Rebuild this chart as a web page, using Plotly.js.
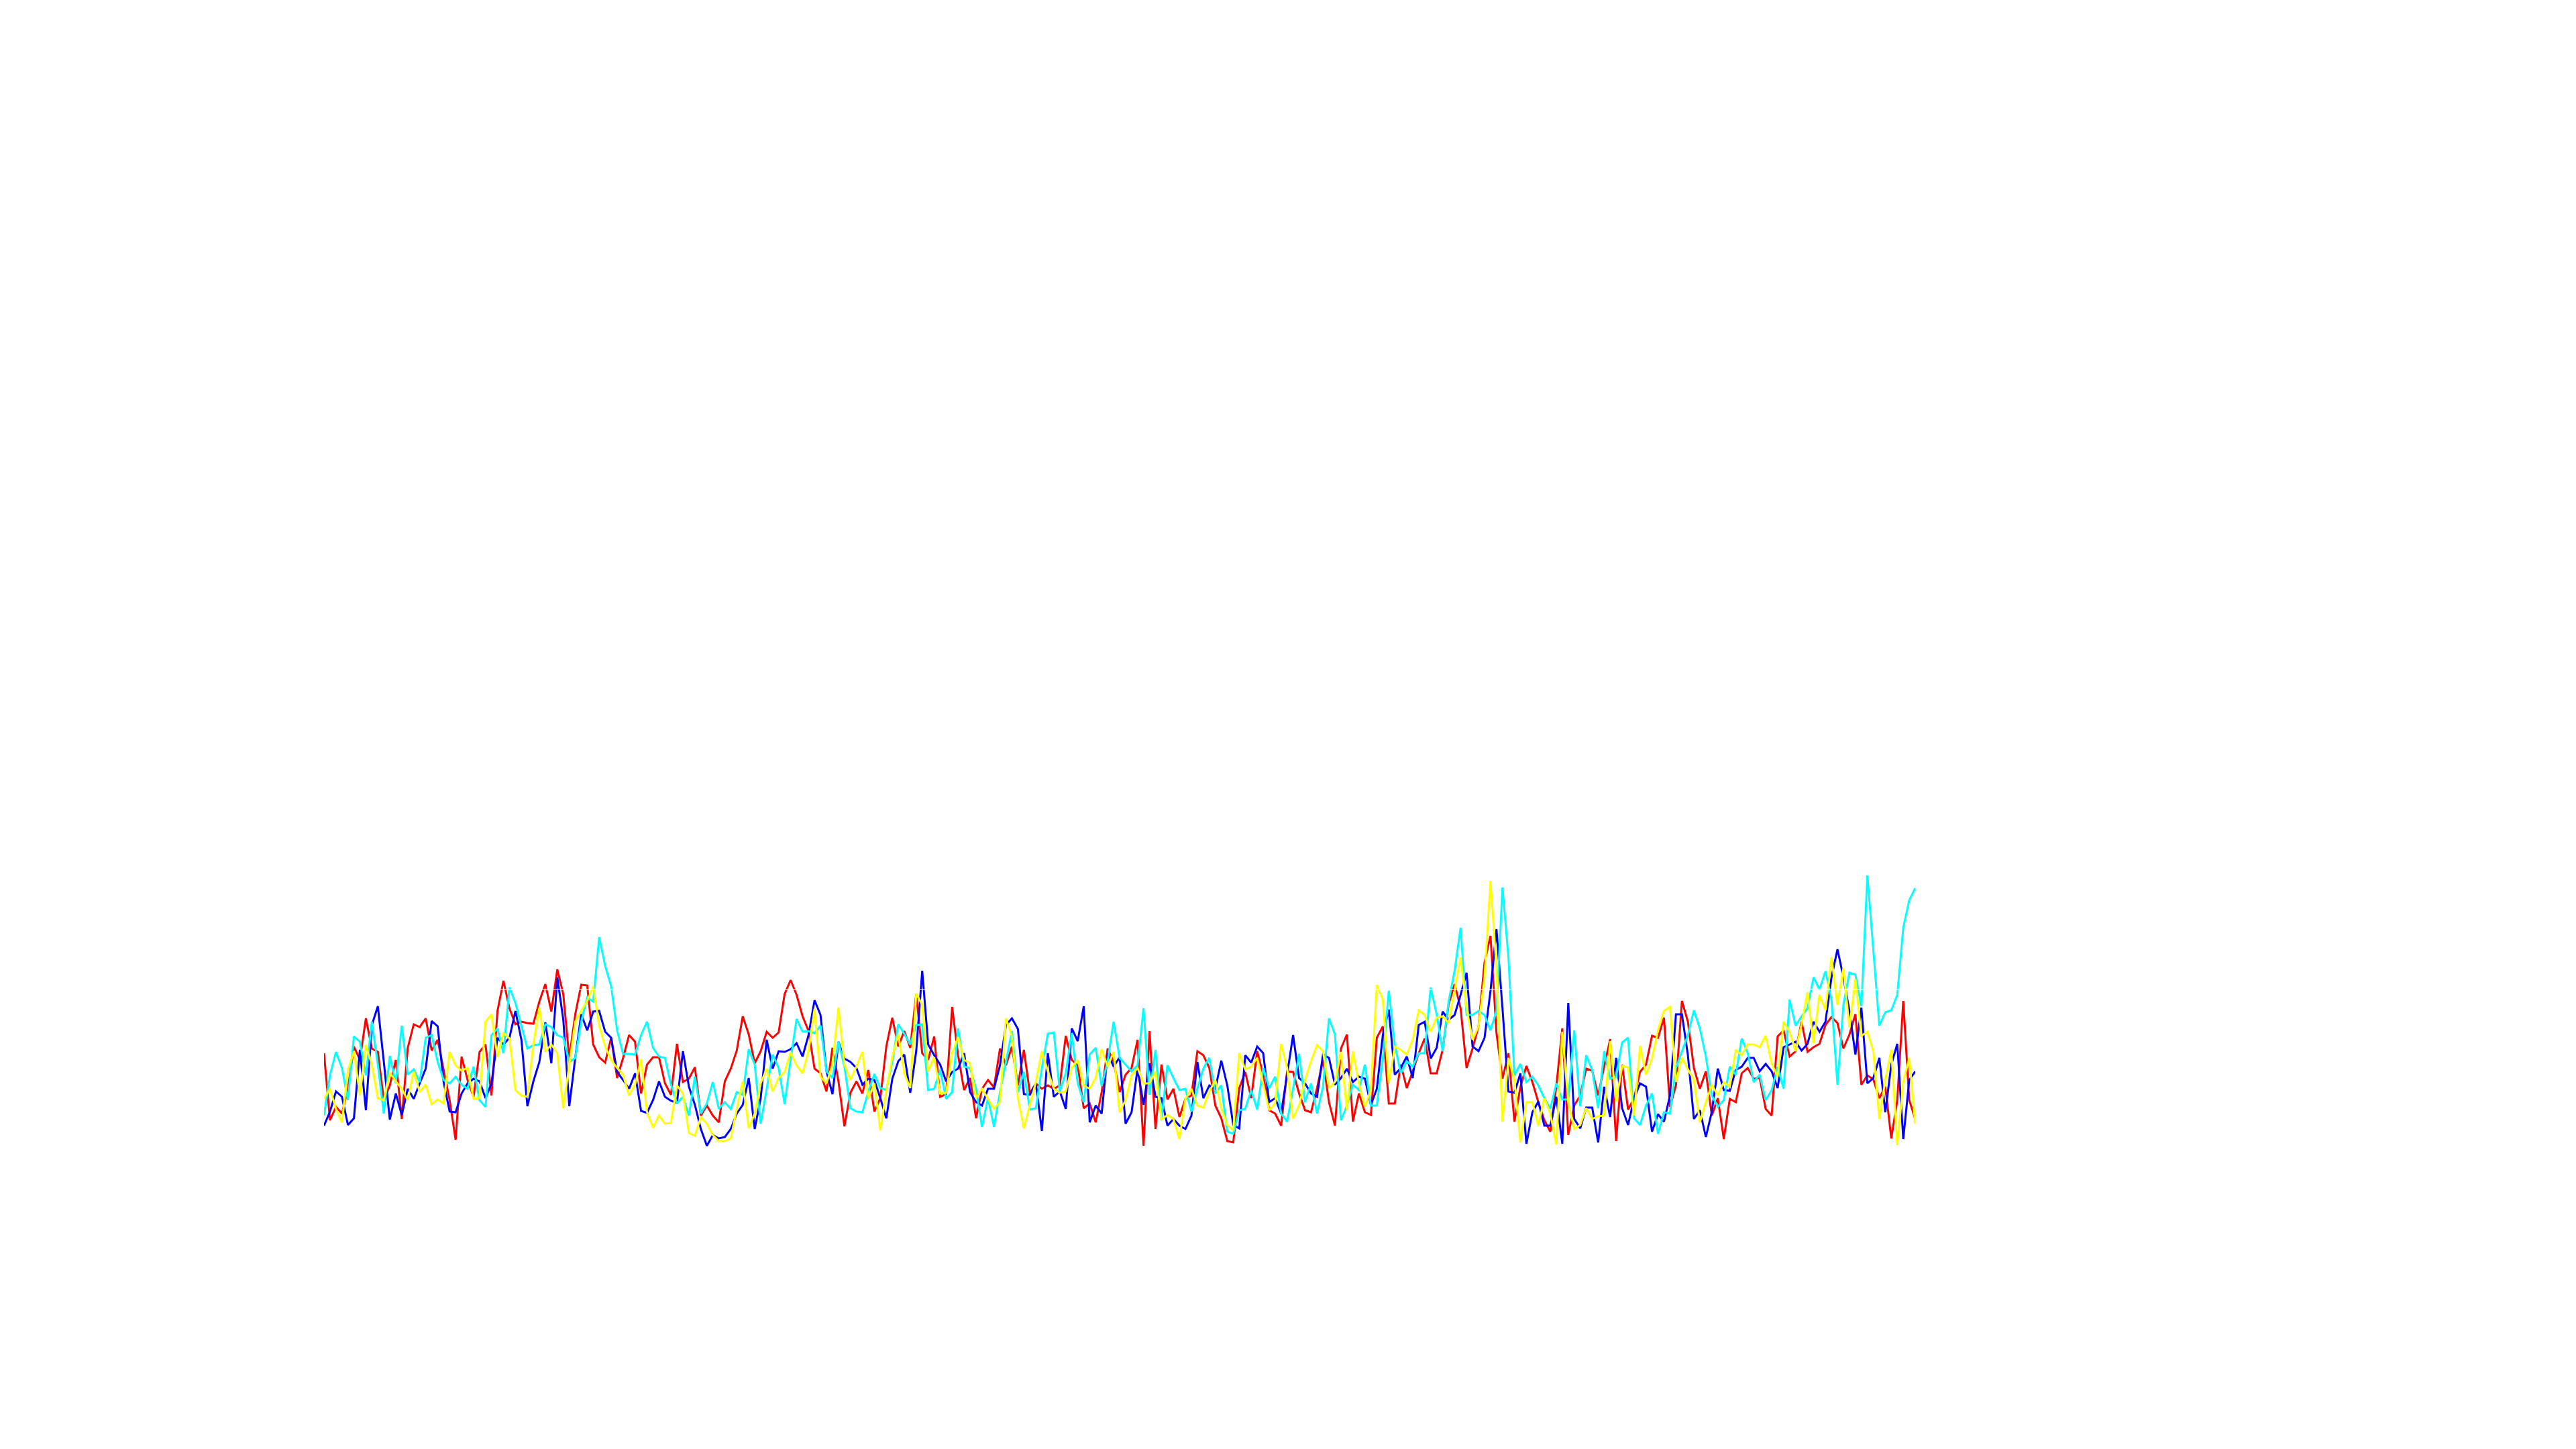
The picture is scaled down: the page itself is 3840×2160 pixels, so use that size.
<!DOCTYPE html>
<html>
<head>
<meta charset="utf-8">
<script src="https://cdn.plot.ly/plotly-3.0.1.min.js"></script>
<style>html,body{margin:0;padding:0;background:#fff;}#chart{width:3840px;height:2160px;}</style>
</head>
<body>
<div id="chart"></div>
<script>
// Series values (arbitrary units; 0 = the thin white reference line)
const redSeries = [
-0.95,-1.95,-1.75,-1.85,-1.48,-0.85,-1.05,-0.43,-0.88,-0.93,-1.65,-1.43,-1.05,-1.93,-0.87,-0.52,-0.56,-0.43,-0.91,-0.75,-1.20,-1.65,-2.24,-1.00,-1.35,-1.60,-0.93,-0.82,-1.58,-0.32,0.13,-0.28,-0.52,-0.48,
-0.50,-0.51,-0.18,0.08,-0.33,0.30,-0.07,-1.02,-0.37,0.07,0.06,-0.82,-1.01,-1.09,-0.72,-1.32,-1.02,-0.68,-0.78,-1.55,-1.12,-1.01,-1.01,-1.40,-1.57,-0.81,-1.38,-1.33,-1.16,-1.88,-1.73,-1.88,-1.98,-1.37,
-1.18,-0.91,-0.40,-0.67,-1.10,-0.92,-0.63,-0.72,-0.64,-0.07,0.14,-0.08,-0.40,-0.62,-1.18,-1.25,-1.52,-0.87,-1.37,-2.04,-1.54,-1.37,-1.55,-1.20,-1.82,-1.62,-0.85,-0.42,-0.85,-0.62,-0.87,-0.07,-0.95,
-1.05,-0.70,-1.60,-1.56,-0.26,-0.98,-1.50,-1.32,-1.92,-1.48,-1.35,-1.46,-0.88,-1.13,-0.85,-1.43,-0.90,-1.55,-1.40,-1.48,-1.43,-1.48,-1.43,-0.69,-1.05,-1.13,-1.77,-1.70,-1.98,-1.53,-0.88,-1.08,-1.53,-1.27,
-1.17,-0.75,-2.33,-0.62,-2.08,-1.12,-1.64,-1.48,-1.90,-1.63,-1.58,-0.92,-0.98,-1.17,-1.73,-1.92,-2.26,-2.28,-1.47,-1.23,-1.62,-0.92,-1.27,-1.80,-1.85,-2.03,-1.22,-1.23,-1.55,-1.80,-1.83,-1.47,-1.05,
-1.68,-2.03,-0.88,-0.67,-1.97,-1.55,-1.83,-1.87,-0.72,-0.55,-1.70,-1.70,-1.12,-1.47,-1.22,-0.95,-0.73,-1.25,-1.25,-0.90,-0.22,0.08,-0.28,-1.17,-0.88,-0.55,0.40,0.80,-0.65,-1.33,-0.95,-1.97,-1.45,-1.14,
-1.38,-1.68,-1.95,-2.12,-1.45,-0.58,-2.17,-1.73,-1.58,-1.18,-1.21,-1.58,-1.15,-0.74,-2.26,-1.12,-1.79,-1.62,-1.23,-1.12,-0.69,-0.72,-0.42,-1.75,-1.43,-0.17,-0.48,-1.17,-1.48,-1.22,-1.88,-1.62,-2.23,-1.63,
-1.68,-1.25,-1.17,-1.33,-1.32,-1.78,-1.88,-0.70,-0.61,-1.00,-0.92,-0.48,-0.93,-0.86,-0.81,-0.53,-0.41,-0.50,-0.88,-0.67,-0.37,-1.42,-1.28,-1.34,-1.62,-1.45,-2.22,-1.65,-0.17,-1.65,-1.93
];
const blueSeries = [
-2.03,-1.82,-1.52,-1.60,-2.02,-1.92,-0.90,-1.80,-0.53,-0.25,-1.08,-1.94,-1.55,-1.87,-1.48,-1.63,-1.40,-1.18,-0.47,-0.55,-1.38,-1.82,-1.83,-1.55,-1.40,-1.33,-1.37,-1.62,-1.40,-0.72,-0.82,-0.72,-0.32,-0.75,
-1.74,-1.37,-1.08,-0.49,-1.10,0.18,-0.45,-1.74,-1.02,-0.37,-0.61,-0.33,-0.32,-0.63,-0.72,-1.23,-1.35,-1.48,-1.25,-1.81,-1.84,-1.65,-1.37,-1.60,-1.66,-1.69,-0.92,-1.45,-1.72,-2.08,-2.33,-2.17,-2.22,-2.20,
-2.08,-1.85,-1.72,-1.32,-2.08,-1.62,-0.75,-1.18,-0.92,-0.93,-0.89,-0.80,-1.00,-0.68,-0.16,-0.38,-1.22,-1.56,-0.78,-1.03,-1.08,-1.17,-1.42,-1.33,-1.35,-1.62,-1.92,-1.33,-1.07,-0.97,-1.54,-0.92,0.28,
-0.82,-0.98,-1.12,-1.37,-1.23,-1.18,-0.95,-1.53,-1.68,-1.73,-1.48,-1.48,-1.13,-0.53,-0.43,-0.59,-1.56,-1.57,-1.40,-2.11,-0.95,-1.60,-1.52,-1.78,-0.58,-0.77,-0.25,-1.98,-1.73,-1.85,-0.95,-1.15,-1.01,-2.00,
-1.83,-1.18,-1.72,-1.10,-1.60,-1.62,-2.03,-1.93,-2.03,-2.08,-1.88,-1.08,-1.62,-1.43,-1.48,-1.06,-1.43,-2.02,-2.07,-0.98,-1.09,-0.85,-0.95,-1.68,-1.62,-1.85,-1.27,-0.68,-1.32,-1.40,-1.55,-1.60,-0.97,
-1.02,-1.42,-1.32,-1.18,-1.38,-1.30,-1.33,-1.72,-1.48,-0.68,-0.30,-1.27,-1.17,-1.00,-1.32,-0.53,-0.48,-1.03,-0.87,-0.33,-0.45,-0.38,-0.08,0.25,-0.85,-0.92,-0.72,-0.02,0.90,-0.28,-1.52,-1.54,-1.25,-2.30,
-1.83,-1.67,-2.03,-2.03,-1.60,-2.30,-0.20,-1.93,-2.07,-1.76,-1.76,-2.28,-1.45,-1.90,-1.02,-1.77,-2.02,-1.63,-1.40,-1.45,-2.12,-1.86,-1.97,-1.58,-0.37,-0.37,-0.98,-1.93,-1.80,-2.20,-1.82,-1.18,-1.50,-1.51,
-1.20,-1.15,-1.02,-1.02,-1.22,-1.11,-1.22,-1.47,-0.86,-0.82,-0.78,-0.91,-0.81,-0.48,-0.63,-0.48,0.18,0.60,0.18,-0.32,-0.97,-0.27,-1.40,-1.32,-1.02,-1.83,-1.12,-0.81,-2.23,-1.35,-1.22
];
const cyanSeries = [
-1.88,-1.28,-0.93,-1.17,-1.65,-0.70,-0.78,-1.28,-0.48,-1.12,-1.85,-0.99,-1.40,-0.54,-1.27,-1.19,-1.38,-0.72,-0.68,-1.08,-1.35,-1.40,-1.30,-1.42,-1.48,-1.15,-1.65,-1.75,-0.68,-0.58,-0.95,0.03,-0.20,-0.55,
-0.88,-0.83,-0.82,-0.52,-0.56,-0.68,-0.72,-1.08,-1.02,-0.48,-0.12,-0.18,0.78,0.35,0.05,-0.61,-0.96,-0.96,-0.97,-0.68,-0.48,-0.87,-1.00,-1.02,-1.42,-1.70,-1.60,-1.88,-1.30,-1.85,-1.70,-1.38,-1.78,-1.68,
-1.78,-1.53,-1.57,-0.89,-1.12,-2.00,-1.48,-0.97,-1.17,-1.71,-1.05,-0.44,-0.63,-0.62,-0.65,-0.54,-1.22,-1.32,-0.78,-1.15,-1.77,-1.82,-1.83,-1.52,-1.26,-1.47,-1.50,-1.08,-0.52,-0.66,-0.82,-0.53,-0.52,
-1.50,-1.48,-1.20,-1.63,-1.53,-0.58,-1.15,-1.17,-1.48,-2.05,-1.62,-2.05,-1.53,-1.08,-0.62,-1.53,-1.23,-1.79,-1.77,-1.18,-0.66,-0.64,-1.52,-1.25,-0.65,-1.40,-1.68,-0.97,-0.87,-1.44,-1.07,-0.48,-1.02,-1.12,
-1.22,-1.13,-0.28,-1.57,-0.90,-1.95,-1.13,-1.32,-1.50,-1.48,-1.82,-1.48,-1.18,-1.02,-1.55,-1.43,-2.12,-2.15,-1.80,-1.78,-1.50,-1.79,-1.17,-1.47,-1.30,-1.85,-1.97,-1.48,-0.96,-1.68,-1.40,-1.85,-1.45,
-0.43,-0.67,-1.95,-1.73,-1.42,-1.50,-1.12,-1.73,-1.73,-1.05,-0.02,-0.82,-1.25,-1.07,-1.15,-0.95,-0.95,0.03,-0.37,-0.92,-0.18,0.28,0.92,-0.38,-0.38,-0.32,-0.38,-0.61,-0.32,1.52,0.48,-1.28,-1.11,-1.38,
-1.30,-1.43,-1.62,-1.78,-1.40,-1.64,-1.64,-0.61,-1.74,-0.98,-1.20,-1.77,-0.92,-1.33,-1.30,-0.79,-0.72,-1.92,-2.02,-1.73,-1.55,-2.15,-1.83,-1.85,-1.17,-0.93,-0.68,-0.31,-0.58,-1.00,-1.58,-1.75,-1.65,-1.15,
-1.27,-0.73,-0.95,-1.38,-1.27,-1.65,-1.50,-1.15,-1.48,-0.15,-0.54,-0.40,-0.28,0.18,0.00,0.27,-0.15,-1.42,-0.23,0.25,0.22,-0.25,1.70,0.58,-0.54,-0.34,-0.31,-0.08,0.92,1.33,1.51
];
const yellowSeries = [
-1.63,-1.48,-1.78,-1.98,-1.20,-0.92,-1.58,-0.83,-1.12,-1.62,-1.65,-1.24,-1.37,-1.48,-1.65,-1.22,-1.53,-1.42,-1.71,-1.64,-1.70,-0.93,-1.13,-1.21,-1.17,-1.63,-1.62,-0.48,-0.37,-1.01,-0.65,-0.73,-1.50,-1.58,
-1.60,-0.82,-0.27,-0.93,-0.82,-0.95,-1.77,-1.12,-0.48,-0.32,-0.17,0.05,-0.54,-0.85,-1.05,-1.17,-1.27,-1.58,-1.42,-1.04,-1.83,-2.06,-1.88,-2.00,-1.99,-1.43,-1.55,-2.14,-2.18,-1.90,-2.00,-2.17,-2.26,-2.26,
-2.22,-1.78,-1.37,-2.07,-1.85,-1.40,-1.18,-1.52,-1.32,-1.23,-0.94,-1.13,-1.25,-0.92,-0.29,-1.30,-1.40,-1.12,-0.27,-1.12,-1.35,-1.15,-0.93,-1.63,-1.40,-2.10,-1.52,-1.00,-0.67,-1.25,-1.47,-0.06,-0.23,
-1.22,-1.01,-1.55,-1.54,-0.95,-0.71,-1.05,-1.10,-1.62,-1.48,-1.63,-1.78,-1.68,-0.43,-0.70,-1.62,-2.07,-1.73,-1.38,-0.92,-1.22,-1.48,-1.54,-1.52,-1.17,-1.05,-1.43,-1.48,-1.32,-0.89,-1.15,-0.93,-1.83,-1.65,
-1.28,-1.17,-1.40,-1.40,-1.22,-1.94,-1.87,-1.93,-2.23,-1.63,-1.48,-1.73,-1.76,-1.52,-1.35,-1.77,-2.02,-2.10,-0.95,-1.19,-1.15,-1.02,-1.42,-1.80,-1.70,-0.81,-1.17,-1.92,-1.73,-1.35,-1.07,-0.83,-0.92,
-1.47,-1.38,-0.93,-1.80,-0.92,-1.40,-1.75,-1.50,0.07,-0.15,-1.40,-0.85,-0.90,-0.97,-0.75,-0.31,-0.38,-0.63,-0.42,-0.40,-0.50,-0.02,0.48,-0.28,-0.75,-0.55,0.18,1.62,0.32,-1.97,-1.02,-1.35,-2.28,-1.68,
-1.68,-2.03,-1.62,-1.85,-2.31,-0.63,-1.68,-2.08,-2.02,-1.77,-1.93,-1.89,-1.88,-0.77,-1.67,-1.14,-1.16,-1.88,-0.84,-1.27,-1.03,-0.61,-0.32,-0.26,-1.38,-1.02,-1.19,-1.34,-1.98,-1.68,-1.42,-1.58,-1.38,-1.45,
-0.90,-0.98,-0.82,-0.82,-0.86,-0.69,-1.10,-1.30,-0.48,-0.63,-0.92,-0.52,-0.04,-0.80,-0.08,-0.31,0.48,-0.23,0.32,-0.57,0.15,-0.69,-0.63,-0.92,-1.93,-1.35,-0.90,-2.32,-1.38,-1.02,-2.00
];
const seriesColors = ["#ff0000", "#0000ff", "#00ffff", "#ffff00"];

const allSeries = [redSeries, blueSeries, cyanSeries, yellowSeries];
const traces = allSeries.map(function (vals, k) {
  const xs = vals.map(function (_, i) { return i; });
  return {
    type: "scatter",
    mode: "lines",
    x: xs,
    y: vals,
    line: { color: seriesColors[k], width: 3 },
    hoverinfo: "skip",
    showlegend: false
  };
});

const n = redSeries.length;
const layout = {
  width: 3840,
  height: 2160,
  paper_bgcolor: "#ffffff",
  plot_bgcolor: "#ffffff",
  showlegend: false,
  margin: { l: 483, r: 985, t: 1290, b: 440, pad: 0 },
  xaxis: { range: [0, n - 1], showgrid: false, zeroline: false, showticklabels: false, ticks: "", showline: false },
  yaxis: { range: [-2.45, 1.85], showgrid: false, zeroline: false, showticklabels: false, ticks: "", showline: false },
  shapes: [{
    type: "line", xref: "paper", x0: 0, x1: 1, yref: "y", y0: 0, y1: 0,
    line: { color: "#ffffff", width: 1 }, layer: "above"
  }]
};

Plotly.newPlot("chart", traces, layout, { staticPlot: true, displayModeBar: false });
</script>
</body>
</html>
